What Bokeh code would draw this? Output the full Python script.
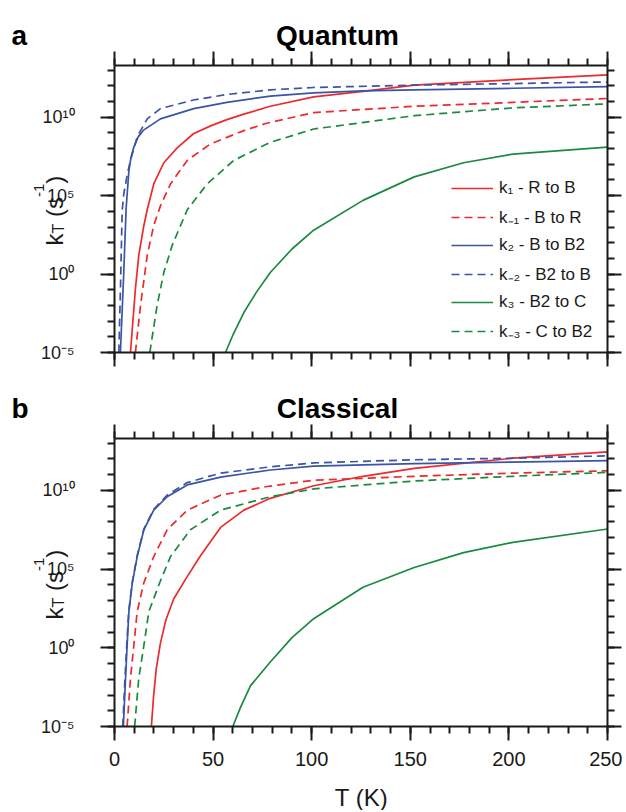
import math
from bokeh.plotting import figure
from bokeh.models import Range1d, FixedTicker, LogAxis, LinearAxis, Label, CustomJSTickFormatter
from bokeh.layouts import column
from bokeh.embed import file_html
from bokeh.resources import INLINE

# ---------------- data ----------------
# Temperatures T (K) and rate constants k_T (s^-1)
# Panel a: Quantum
q_T_k1 = [8.1, 10.6, 12.3, 14.9, 16.6, 19.9, 25, 31.8, 40, 48.7, 57, 65.6, 79, 101, 126, 152, 202, 250]
q_k1 = [1e-5, 1.12e-1, 1.58e1, 1.26e3, 1.26e4, 5.62e5, 1.26e7, 1.12e8, 8.91e8, 2.82e9, 7.08e9, 1.58e10,
        5.01e10, 2.0e11, 4.47e11, 1.12e12, 2.51e12, 5.01e12]
q_T_km1 = [10.6, 13.2, 16.6, 19.9, 23.3, 28.4, 36.9, 48.7, 65.6, 76.6, 101, 152, 202, 250]
q_km1 = [1e-5, 1e-2, 1.58e1, 1.26e3, 2.24e4, 5.62e5, 1.78e7, 2.0e8, 1.41e9, 3.98e9, 2.0e10, 5.01e10,
         8.91e10, 1.58e11]
q_T_k2 = [3.0, 4.7, 5.9, 7.3, 8.4, 9.8, 12, 14.9, 23.3, 40.2, 57, 79, 101, 126, 152, 202, 250]
q_k2 = [1e-5, 1.26, 1.58e4, 3.98e6, 2.82e7, 1.26e8, 5.62e8, 1.58e9, 7.94e9, 3.55e10, 8.91e10, 2.24e11,
        3.55e11, 4.79e11, 5.62e11, 7.08e11, 8.91e11]
q_T_km2 = [2.2, 3.1, 3.9, 4.7, 6.4, 8.1, 11.5, 16.6, 23.3, 40, 57, 79, 101, 152, 202, 250]
q_km2 = [1e-5, 3.16e-1, 1.12e4, 1.26e5, 2.0e6, 1.78e7, 5.62e8, 7.94e9, 3.55e10, 1.26e11, 2.82e11, 5.62e11,
         7.94e11, 1.12e12, 1.41e12, 1.78e12]
q_T_k3 = [56.3, 60, 65.6, 72, 79, 90, 101, 126, 152, 177, 202, 250]
q_k3 = [1e-5, 1.26e-4, 3.55e-3, 7.08e-2, 1.26, 3.98e1, 6.31e2, 5.01e4, 1.58e6, 1.26e7, 4.47e7, 1.26e8]
q_T_km3 = [17.9, 21.6, 25, 29.3, 36.9, 47, 60.5, 79, 101, 152, 202, 250]
q_km3 = [1e-5, 1e-2, 1.26, 7.08e1, 1.26e4, 5.62e5, 1.78e7, 2.51e8, 1.78e9, 1.26e10, 3.98e10, 7.08e10]

# Panel b: Classical
c_T_k1 = [18.7, 19.8, 21.2, 23.3, 26, 30, 36, 43.6, 53.8, 65.6, 79, 101, 126, 152, 202, 250]
c_k1 = [1e-5, 7.94e-4, 5.01e-2, 2.0, 5.62e1, 1.26e3, 2.24e4, 7.08e5, 4.47e7, 5.62e8, 3.16e9, 2.0e10,
        7.94e10, 2.51e11, 1.12e12, 2.82e12]
c_T_km1 = [6.4, 8.1, 9.8, 11.5, 14.8, 19.9, 26.7, 36.9, 53.8, 77.4, 101, 152, 202, 250]
c_km1 = [1e-5, 1.12e-2, 1.41, 2.0e2, 1.26e4, 6.31e5, 3.16e7, 5.62e8, 5.01e9, 1.78e10, 4.47e10, 7.94e10,
         1.26e11, 1.78e11]
c_T_k2 = [4.5, 5.6, 6.4, 7.3, 9.0, 11.5, 14.9, 19.9, 26.7, 36.9, 53.8, 79, 101, 152, 202, 250]
c_k2 = [1e-5, 1.12e-2, 1.41, 2.0e2, 1.26e4, 6.31e5, 3.16e7, 5.62e8, 3.98e9, 2.24e10, 7.08e10, 2.0e11,
        3.55e11, 5.01e11, 6.31e11, 7.94e11]
c_T_km2 = [4.2, 5.3, 6.2, 7.2, 9.0, 11.5, 14.9, 19.9, 26.7, 36.9, 53.8, 79, 101, 152, 202, 250]
c_km2 = [1e-5, 1.12e-2, 1.41, 2.0e2, 1.41e4, 7.08e5, 3.55e7, 6.31e8, 5.01e9, 3.16e10, 1.26e11, 3.16e11,
         5.62e11, 8.91e11, 1.12e12, 1.58e12]
c_T_k3 = [60, 64, 69, 79, 90, 101, 126, 152, 177, 202, 250]
c_k3 = [1e-5, 1.78e-4, 3.98e-3, 1.26e-1, 4.47, 7.08e1, 7.08e3, 1.26e5, 1.12e6, 5.01e6, 3.55e7]
c_T_km3 = [10.2, 12.3, 14.9, 17.4, 22.8, 28.4, 38.5, 53.8, 79, 101, 152, 202, 250]
c_km3 = [1e-5, 1.12e-2, 1.41, 2.0e2, 1.26e4, 6.31e5, 3.16e7, 5.62e8, 3.98e9, 1.26e10, 3.98e10, 7.94e10,
         1.41e11]

series_labels = ["k\u2081 - R to B", "k\u208b\u2081 - B to R", "k\u2082 - B to B2",
                 "k\u208b\u2082 - B2 to B", "k\u2083 - B2 to C", "k\u208b\u2083 - C to B2"]

x_major = [0, 50, 100, 150, 200, 250]
x_minor = list(range(0, 251, 10))
y_major = [1e-5, 1e0, 1e5, 1e10]
y_minor = [10.0 ** e for e in range(-5, 14)]

X_LO, X_HI = 0, 250
Y_LO, Y_TOP = 1e-5, 2e13

RED = "#ec2a2c"
BLUE = "#3a54a6"
GREEN = "#1b8a40"
FONT = "Liberation Sans"
INK = "#1a1a1a"
DASH = "8 5"
W = 622
BOX_L, BOX_R = 114, 607     # plot box, canvas pixels

sup_code = """
const s = {"-": "\u207b", "0": "\u2070", "1": "\u00b9", "2": "\u00b2", "3": "\u00b3", "4": "\u2074",
           "5": "\u2075", "6": "\u2076", "7": "\u2077", "8": "\u2078", "9": "\u2079"};
const e = Math.round(Math.log10(tick));
return "10" + String(e).split("").map(c => s[c]).join("");
"""


def style_axis(ax, major, minor, show_labels, size="18px", standoff=10):
    ax.ticker = FixedTicker(ticks=major, minor_ticks=minor)
    ax.axis_line_width = 2
    ax.axis_line_color = INK
    ax.major_tick_line_width = 2
    ax.minor_tick_line_width = 2
    ax.major_tick_line_color = INK
    ax.minor_tick_line_color = INK
    ax.major_tick_out = 14
    ax.major_tick_in = 0
    ax.minor_tick_out = 7
    ax.minor_tick_in = 0
    if show_labels:
        ax.major_label_text_font = FONT
        ax.major_label_text_font_size = size
        ax.major_label_text_color = INK
        ax.major_label_standoff = standoff
    else:
        ax.formatter = CustomJSTickFormatter(code="return '';")
        ax.major_label_text_font_size = "10px"
        ax.major_label_text_color = None
        ax.major_label_standoff = 0


def label(p, x, y, text, size, bold=False, align="left", angle=0.0):
    p.add_layout(Label(x=x, y=y, x_units="screen", y_units="screen", text=text, angle=angle,
                       text_font=FONT, text_font_size=f"{size}px",
                       text_font_style="bold" if bold else "normal",
                       text_color="#000000" if bold else INK, text_align=align,
                       text_baseline="alphabetic"))


def add_ylabel(p, y0):
    # rotated composite label  k_T (s^-1)
    bx = 54
    y = y0
    pieces = [("k", 24, 0, 0.5), ("T", 16, 4, 0.611), ("\u00a0(s", 24, 0, 1.111),
              ("-1", 15, -16, 0.889), (")", 24, 0, 0.333)]
    for txt, fs, dx, adv in pieces:
        label(p, bx + dx, y, txt, fs, angle=math.pi / 2)
        y += adv * fs


def make_panel(title, letter, height, box_top, box_bottom, data, show_xlabels, show_legend):
    # the frame fills the canvas; the plot box is drawn by axes at fixed locations
    sx = (BOX_R - BOX_L) / (X_HI - X_LO)
    x0 = X_LO - BOX_L / sx
    x1 = X_HI + (W - BOX_R) / sx
    dec = math.log10(Y_TOP) - math.log10(Y_LO)
    dpp = dec / (box_bottom - box_top)
    y0 = 10 ** (math.log10(Y_LO) - (height - box_bottom) * dpp)
    y1 = 10 ** (math.log10(Y_TOP) + box_top * dpp)

    p = figure(width=W, height=height, x_range=Range1d(x0, x1), y_range=Range1d(y0, y1),
               y_axis_type="log", output_backend="svg", toolbar_location=None,
               min_border_left=0, min_border_right=0, min_border_top=0, min_border_bottom=0)
    p.xgrid.visible = False
    p.ygrid.visible = False
    p.outline_line_color = None

    bx = p.xaxis[0]
    style_axis(bx, x_major, x_minor, show_xlabels, size="20px", standoff=11)
    bx.fixed_location = Y_LO
    bx.bounds = (X_LO, X_HI)

    ly = p.yaxis[0]
    style_axis(ly, y_major, y_minor, True, size="18px", standoff=26)
    ly.formatter = CustomJSTickFormatter(code=sup_code)
    ly.fixed_location = X_LO
    ly.bounds = (Y_LO, Y_TOP)

    top_ax = LinearAxis()
    style_axis(top_ax, x_major, x_minor, False)
    top_ax.fixed_location = Y_TOP
    top_ax.bounds = (X_LO, X_HI)
    p.add_layout(top_ax, "above")

    right_ax = LogAxis()
    style_axis(right_ax, y_major, y_minor, False)
    right_ax.fixed_location = X_HI
    right_ax.bounds = (Y_LO, Y_TOP)
    p.add_layout(right_ax, "right")

    colors = [RED, RED, BLUE, BLUE, GREEN, GREEN]
    dashes = ["solid", DASH, "solid", DASH, "solid", DASH]
    for (T, k), col, dash, lab in zip(data, colors, dashes, series_labels):
        kw = dict(legend_label=lab) if show_legend else {}
        p.line(T, k, line_color=col, line_width=1.7, line_dash=dash, **kw)

    if show_legend:
        lg = p.legend[0]
        lg.location = (444, height - box_bottom + 3)
        lg.margin = 0
        lg.padding = 7
        lg.spacing = 7
        lg.glyph_width = 42
        lg.glyph_height = 20
        lg.label_height = 20
        lg.label_standoff = 6
        lg.label_text_font = FONT
        lg.label_text_font_size = "17px"
        lg.label_text_color = INK
        lg.background_fill_alpha = 0
        lg.border_line_alpha = 0

    base = height - box_top + 30          # title baseline, 30 px above the box
    label(p, 11, base, letter, 28, bold=True)
    label(p, 337, base, title, 28, bold=True, align="center")
    add_ylabel(p, height - box_bottom + 107)
    if show_xlabels:
        label(p, 361, 13, "T (K)", 24, align="center")
    return p


qa = [(q_T_k1, q_k1), (q_T_km1, q_km1), (q_T_k2, q_k2), (q_T_km2, q_km2), (q_T_k3, q_k3), (q_T_km3, q_km3)]
cb = [(c_T_k1, c_k1), (c_T_km1, c_km1), (c_T_k2, c_k2), (c_T_km2, c_km2), (c_T_k3, c_k3), (c_T_km3, c_km3)]

pa = make_panel("Quantum", "a", 382, 65, 352, qa, False, True)
pb = make_panel("Classical", "b", 428, 56, 344, cb, True, False)

layout = column(pa, pb, spacing=0)
open("out.html", "w").write(file_html(layout, INLINE))
